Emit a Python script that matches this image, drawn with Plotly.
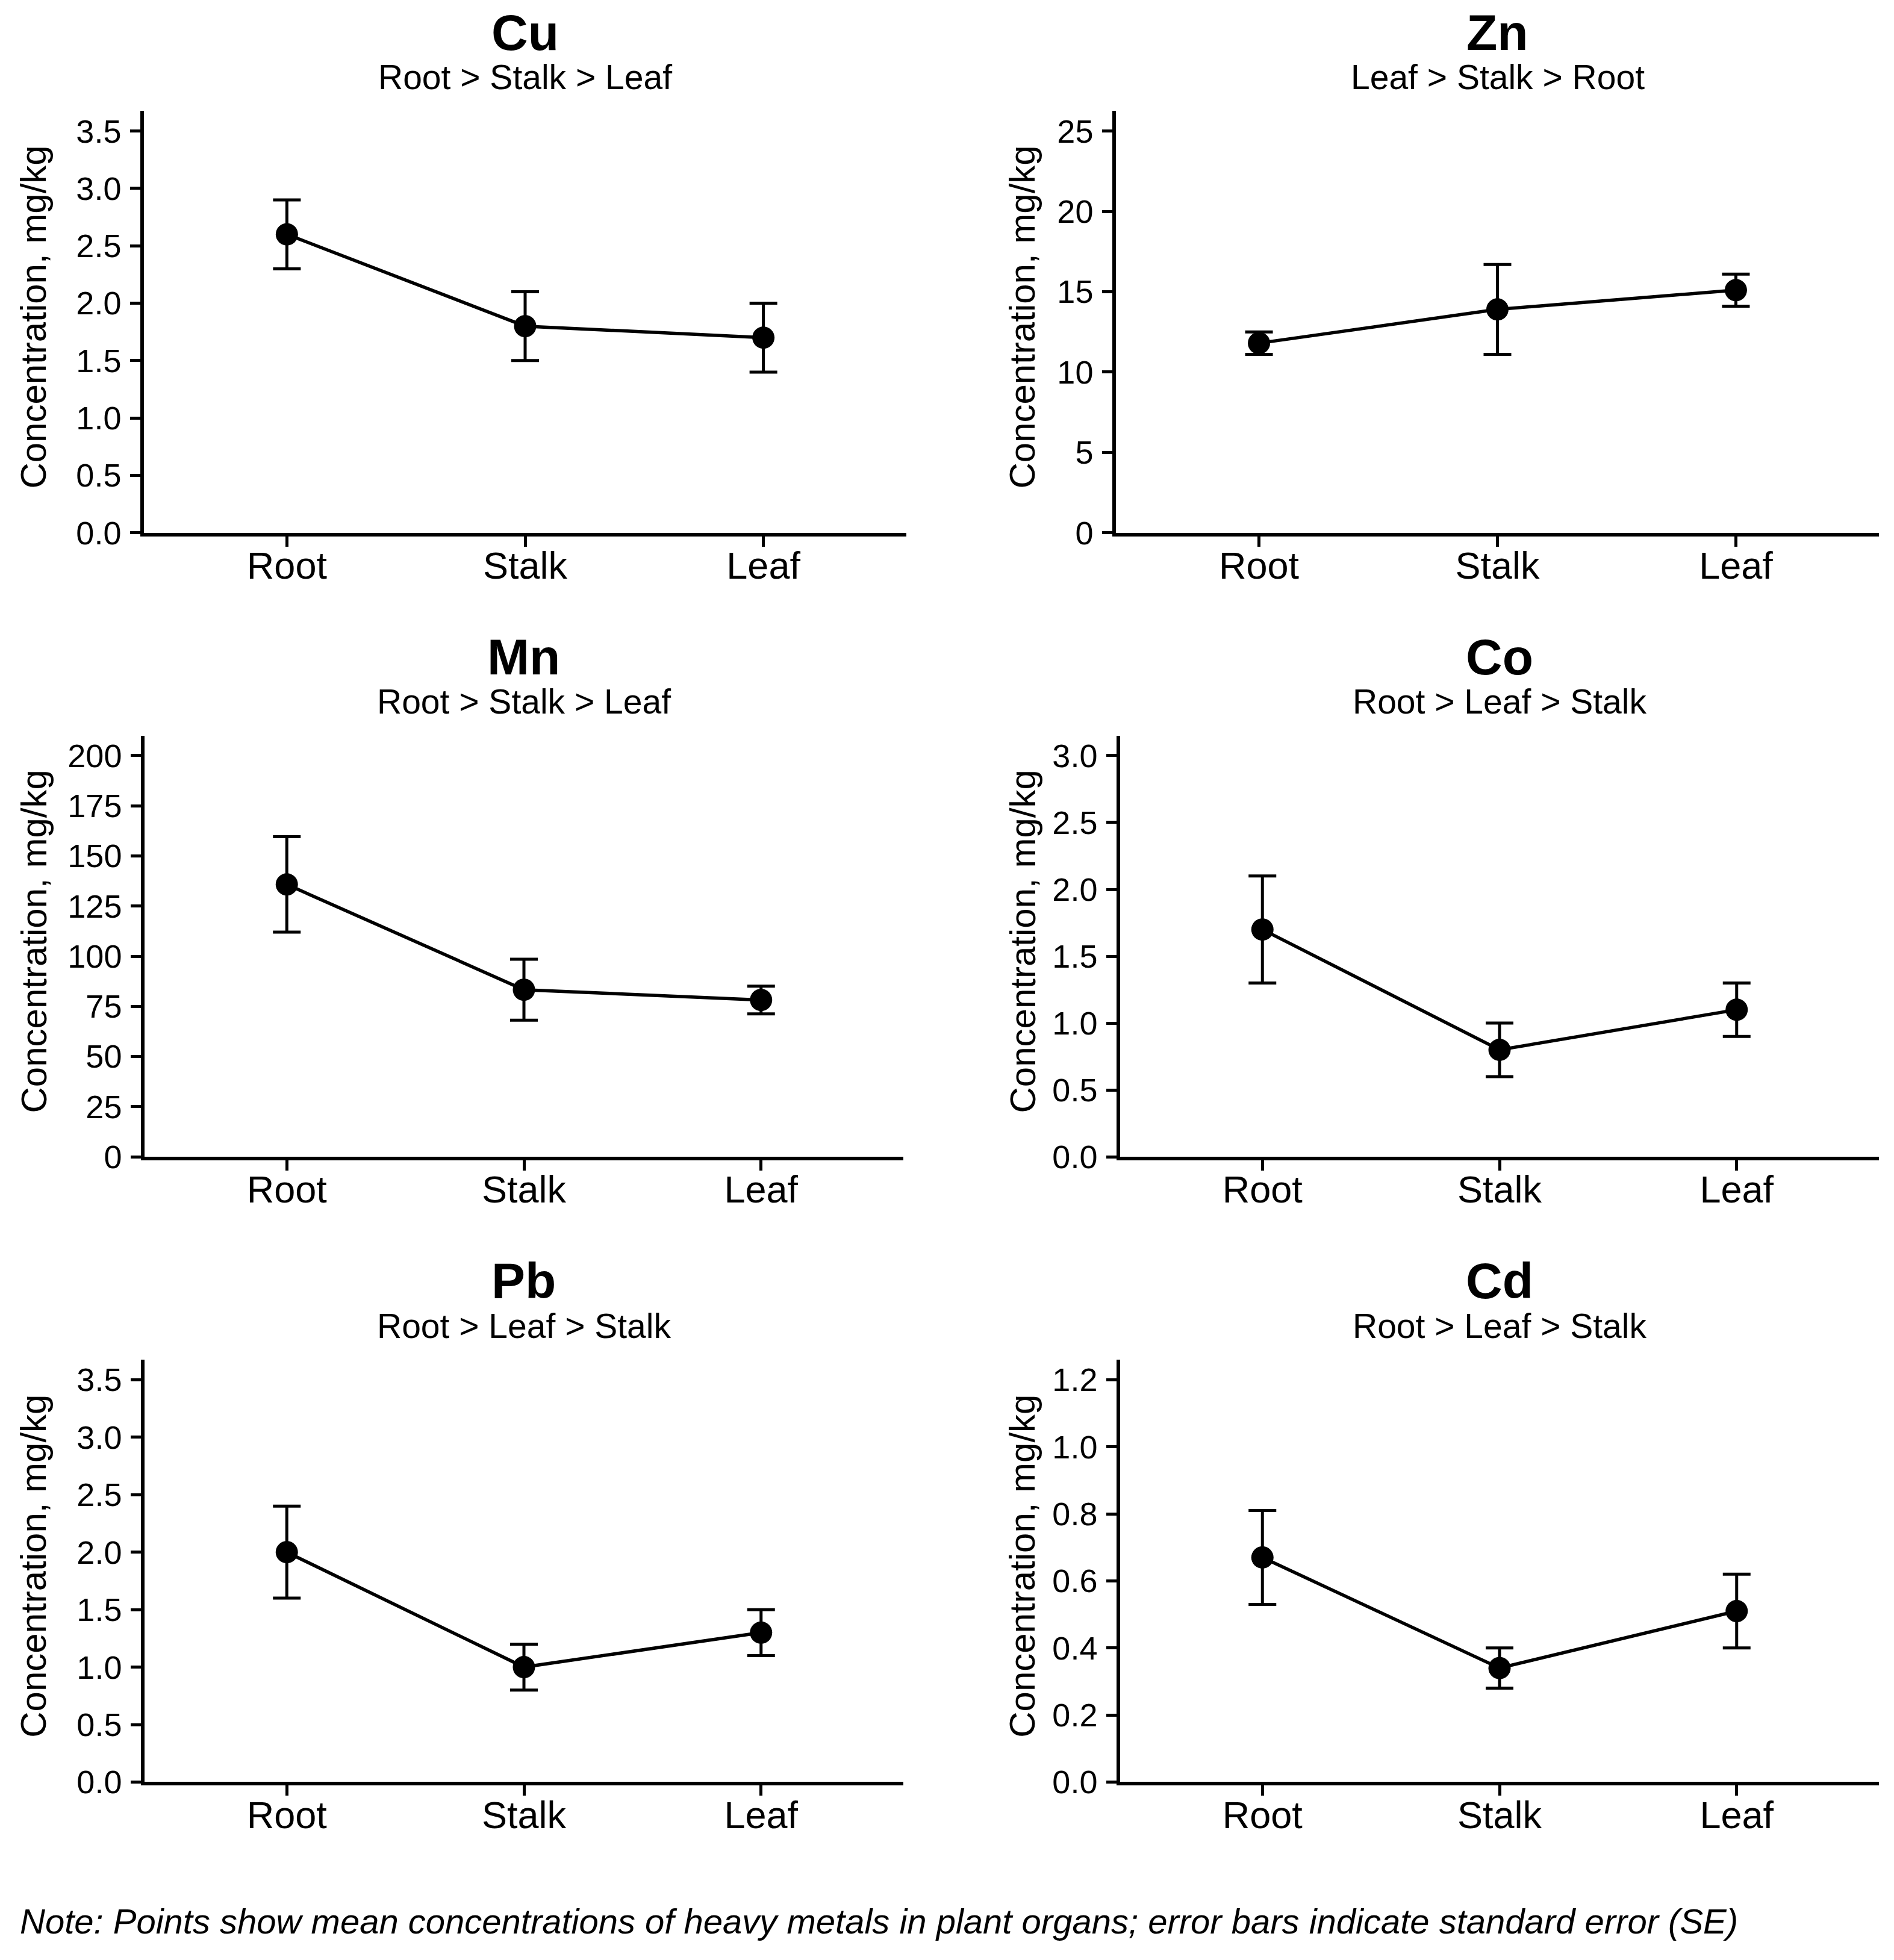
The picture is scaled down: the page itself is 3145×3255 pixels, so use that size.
import plotly.graph_objects as go

# ---------------- data ----------------
organs = ["Root", "Stalk", "Leaf"]

metals = ["Cu", "Zn", "Mn", "Co", "Pb", "Cd"]
subtitles = ["Root > Stalk > Leaf", "Leaf > Stalk > Root", "Root > Stalk > Leaf",
             "Root > Leaf > Stalk", "Root > Leaf > Stalk", "Root > Leaf > Stalk"]

cu_mean = [2.6, 1.8, 1.7]
cu_se = [0.3, 0.3, 0.3]
zn_mean = [11.8, 13.9, 15.1]
zn_se = [0.7, 2.8, 1.0]
mn_mean = [135.8, 83.3, 78.2]
mn_se = [23.8, 15.2, 6.9]
co_mean = [1.7, 0.8, 1.1]
co_se = [0.4, 0.2, 0.2]
pb_mean = [2.0, 1.0, 1.3]
pb_se = [0.4, 0.2, 0.2]
cd_mean = [0.67, 0.34, 0.51]
cd_se = [0.14, 0.06, 0.11]

means = [cu_mean, zn_mean, mn_mean, co_mean, pb_mean, cd_mean]
ses = [cu_se, zn_se, mn_se, co_se, pb_se, cd_se]

y_tops = [3.675, 26.25, 210, 3.15, 3.675, 1.26]
y_ticks = [[0, 0.5, 1.0, 1.5, 2.0, 2.5, 3.0, 3.5],
           [0, 5, 10, 15, 20, 25],
           [0, 25, 50, 75, 100, 125, 150, 175, 200],
           [0, 0.5, 1.0, 1.5, 2.0, 2.5, 3.0],
           [0, 0.5, 1.0, 1.5, 2.0, 2.5, 3.0, 3.5],
           [0, 0.2, 0.4, 0.6, 0.8, 1.0, 1.2]]
y_formats = [".1f", "d", "d", ".1f", ".1f", ".1f"]

y_title = "Concentration, mg/kg"
note = "Note: Points show mean concentrations of heavy metals in plant organs; error bars indicate standard error (SE)"

# ---------------- layout (pixels) ----------------
W, H = 3145, 3255
col_x = [(239, 1505), (1853, 3120), (240, 1500), (1860, 3120), (240, 1500), (1860, 3120)]
row_y = [(186, 893), (186, 893), (1233, 1939), (1233, 1939), (2279, 2987), (2279, 2987)]
ytitle_x = [56, 1698]

FONT = "Liberation Sans"


def fx(p):
    return p / W


def fy(p):
    return 1 - p / H


fig = go.Figure()
annotations = []
for i, m in enumerate(metals):
    k = "" if i == 0 else str(i + 1)
    fig.add_trace(go.Scatter(
        x=organs, y=means[i], mode="lines+markers",
        line=dict(color="black", width=5.5),
        marker=dict(color="black", size=37),
        error_y=dict(type="data", array=ses[i], visible=True,
                     color="black", thickness=5, width=23),
        xaxis="x" + k, yaxis="y" + k, showlegend=False,
    ))
    x0, x1 = col_x[i]
    y0, y1 = row_y[i]
    fig.layout["xaxis" + k] = dict(
        domain=[fx(x0), fx(x1)], anchor="y" + k, type="category",
        categoryorder="array", categoryarray=organs,
        range=[-0.6, 2.6], showgrid=False, zeroline=False,
        showline=True, linecolor="black", linewidth=5.5,
        ticks="outside", ticklen=17, tickwidth=5, tickcolor="black",
        tickfont=dict(family=FONT, size=63, color="black"),
        ticklabelstandoff=-22,
    )
    fig.layout["yaxis" + k] = dict(
        domain=[fy(y1), fy(y0)], anchor="x" + k,
        range=[0, y_tops[i]], tickvals=y_ticks[i], tickformat=y_formats[i],
        showgrid=False, zeroline=False,
        showline=True, linecolor="black", linewidth=5.5,
        ticks="outside", ticklen=17, tickwidth=5, tickcolor="black",
        tickfont=dict(family=FONT, size=54, color="black"),
        ticklabelstandoff=4,
    )
    cx = (x0 + x1) / 2
    annotations.append(dict(
        text="<b>" + m + "</b>", x=fx(cx), y=fy(y0 - 132), xref="paper", yref="paper",
        xanchor="center", yanchor="middle", showarrow=False, borderpad=0,
        font=dict(family=FONT, size=84, color="black")))
    annotations.append(dict(
        text=subtitles[i], x=fx(cx), y=fy(y0 - 57), xref="paper", yref="paper",
        xanchor="center", yanchor="middle", showarrow=False,
        font=dict(family=FONT, size=57, color="black")))
    annotations.append(dict(
        text=y_title, x=fx(ytitle_x[i % 2]), y=fy((y0 + y1) / 2 - 8), xref="paper", yref="paper",
        xanchor="center", yanchor="middle", showarrow=False, textangle=-90,
        font=dict(family=FONT, size=60, color="black")))

annotations.append(dict(
    text="<i>" + note + "</i>", x=fx(31), y=fy(3220), xref="paper", yref="paper",
    xanchor="left", yanchor="middle", showarrow=False,
    font=dict(family=FONT, size=58, color="black")))

fig.update_layout(
    width=W, height=H, margin=dict(l=0, r=0, t=0, b=0),
    paper_bgcolor="white", plot_bgcolor="white",
    annotations=annotations, font=dict(family=FONT, color="black"),
)

fig.write_html("out.html")
